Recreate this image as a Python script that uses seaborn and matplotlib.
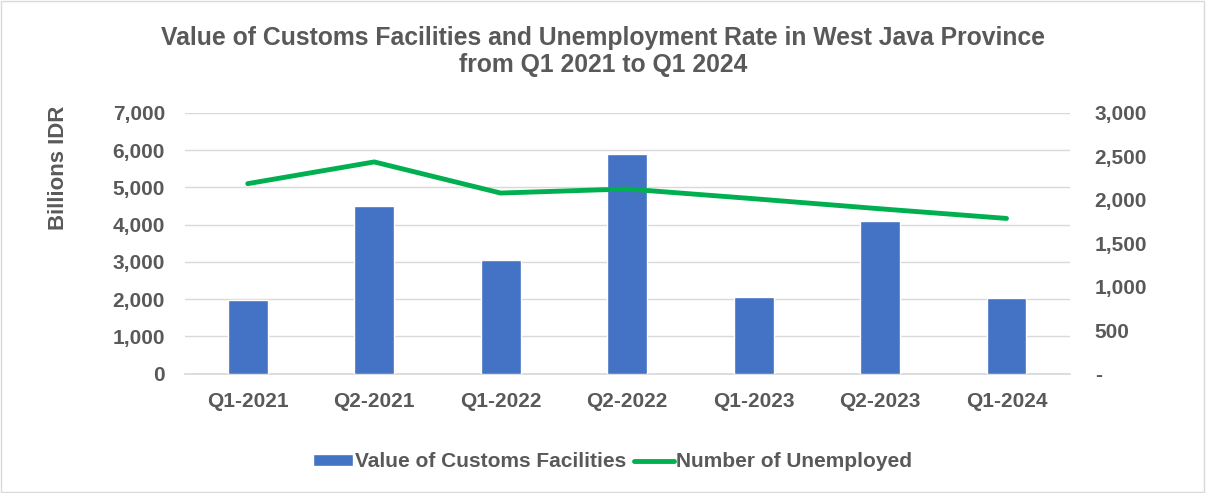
import numpy as np
import pandas as pd
import matplotlib
matplotlib.use("Agg")
import matplotlib.pyplot as plt
import seaborn as sns
from matplotlib.ticker import FuncFormatter, MultipleLocator
from matplotlib.patches import Patch, Rectangle
from matplotlib.lines import Line2D

quarters = ["Q1-2021", "Q2-2021", "Q1-2022", "Q2-2022", "Q1-2023", "Q2-2023", "Q1-2024"]
customs_value = [1980, 4510, 3050, 5890, 2050, 4110, 2020]  # billions IDR
unemployed = [2186, 2436, 2078, 2125, 2013, 1897, 1786]

BAR_COLOR = "#4472C4"
LINE_COLOR = "#00B050"
TEXT_COLOR = "#595959"

sns.set_theme(style="white")
plt.rcParams["font.family"] = ["Liberation Sans", "DejaVu Sans"]

df = pd.DataFrame({"quarter": quarters, "value": customs_value, "unemployed": unemployed})

fig = plt.figure(figsize=(12.06, 4.93), dpi=100)
ax = fig.add_axes([0.153, 0.242, 0.734, 0.529])

sns.barplot(data=df, x="quarter", y="value", color=BAR_COLOR, width=0.316,
            saturation=1, ax=ax, zorder=3)
ax.set_xlim(-0.5, len(quarters) - 0.5)
ax.set_ylim(0, 7000)
ax.yaxis.set_major_locator(MultipleLocator(1000))
ax.yaxis.set_major_formatter(FuncFormatter(lambda v, p: f"{v:,.0f}"))
ax.grid(axis="y", color="#D9D9D9", linewidth=1, zorder=0)
ax.set_axisbelow(True)
ax.set_xlabel("")
ax.set_ylabel("Billions IDR", fontsize=16, fontweight="bold", color=TEXT_COLOR)
ax.yaxis.set_label_coords(-0.130, 0.79)

ax2 = ax.twinx()
sns.lineplot(x=np.arange(len(quarters)), y=df["unemployed"], color=LINE_COLOR,
             linewidth=3.5, ax=ax2, zorder=4)
ax2.set_ylim(0, 3000)
ax2.yaxis.set_major_locator(MultipleLocator(500))
ax2.yaxis.set_major_formatter(FuncFormatter(lambda v, p: "-" if v == 0 else f"{v:,.0f}"))
ax2.set_ylabel("")
ax2.set_xlim(-0.5, len(quarters) - 0.5)

for a in (ax, ax2):
    for s in a.spines.values():
        s.set_visible(False)
    a.tick_params(length=0, labelsize=15, labelcolor=TEXT_COLOR)
    for lbl in a.get_xticklabels() + a.get_yticklabels():
        lbl.set_fontweight("bold")
ax.spines["bottom"].set_visible(True)
ax.spines["bottom"].set_color("#D9D9D9")
ax.tick_params(axis="y", pad=14)
ax.tick_params(axis="x", pad=13)
ax2.tick_params(axis="y", pad=18)

fig.suptitle("Value of Customs Facilities and Unemployment Rate in West Java Province\nfrom Q1 2021 to Q1 2024",
             y=0.947, fontsize=17.8, fontweight="bold", color=TEXT_COLOR, linespacing=1.15)

handles = [Patch(facecolor=BAR_COLOR, label="Value of Customs Facilities"),
           Line2D([0], [0], color=LINE_COLOR, linewidth=3.5, label="Number of Unemployed")]
fig.legend(handles=handles, loc="center", bbox_to_anchor=(0.508, 0.063), ncol=2, frameon=False,
           prop={"size": 15, "weight": "bold"}, labelcolor=TEXT_COLOR,
           handlelength=1.9, handleheight=0.5, handletextpad=0.1, columnspacing=0.4)

fig.add_artist(Rectangle((0.001, 0.002), 0.997, 0.996, transform=fig.transFigure,
                         fill=False, edgecolor="#D9D9D9", linewidth=1))

fig.savefig("out.png", dpi=100)
